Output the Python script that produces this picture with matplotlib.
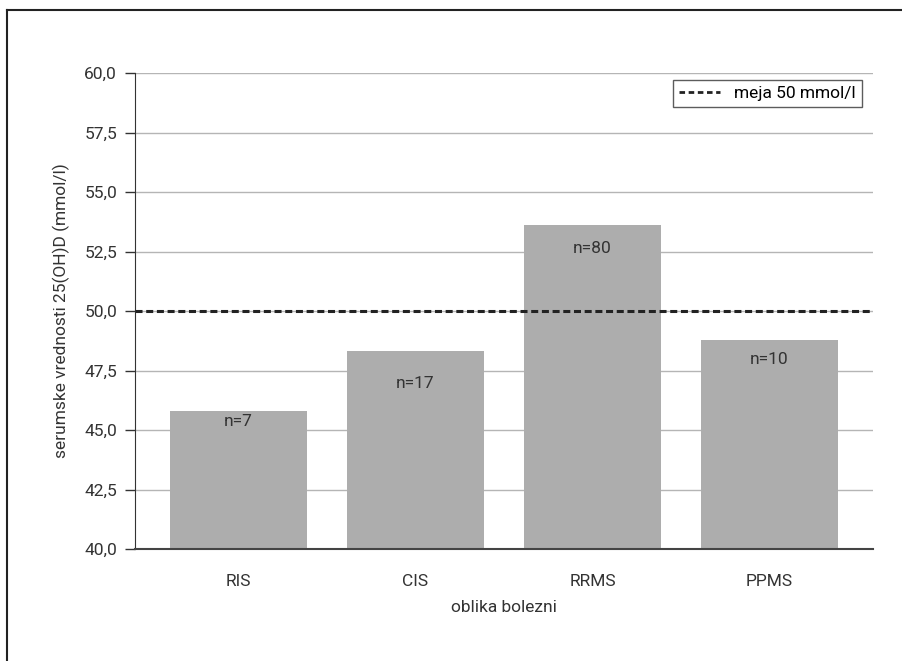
import matplotlib
matplotlib.use("Agg")
import matplotlib.pyplot as plt
from matplotlib.lines import Line2D

categories = ["RIS", "CIS", "RRMS", "PPMS"]
values = [45.8, 48.3, 53.6, 48.8]
counts = ["n=7", "n=17", "n=80", "n=10"]
threshold = 50.0
threshold_label = "meja 50 mmol/l"
yticks = [40.0, 42.5, 45.0, 47.5, 50.0, 52.5, 55.0, 57.5, 60.0]

# vertical placement of each count label below its bar top (points)
label_drop = [7.5, 23, 16.5, 14]

plt.rcParams["font.family"] = ["Roboto", "DejaVu Sans"]
FS = 12.5

fig = plt.figure(figsize=(9.03, 6.61), dpi=100)
ax = fig.add_axes([135 / 903, 1 - 549 / 661, (873 - 135) / 903, (549 - 73) / 661])

x = list(range(len(categories)))
ax.bar(x, [v - 40.0 for v in values], bottom=40.0, width=0.774,
       color="#adadad", zorder=2)

for xi, v, c, d in zip(x, values, counts, label_drop):
    ax.annotate(c, (xi, v), xytext=(0, -d), textcoords="offset points",
                ha="center", va="center", fontsize=FS, color="#333333",
                zorder=3)

ax.axhline(threshold, color="#222222", lw=2.2, ls=(0, (2.3, 1.2)), zorder=4)

ax.set_ylim(40, 60)
ax.set_xlim(-0.585, 3.585)
ax.set_yticks(yticks)
ax.set_yticklabels([f"{t:.1f}".replace(".", ",") for t in yticks])
ax.set_xticks(x)
ax.set_xticklabels(categories)
ax.yaxis.grid(True, color="#b5b5b5", lw=1, zorder=0)
ax.set_axisbelow(True)

for s in ["top", "right"]:
    ax.spines[s].set_visible(False)
ax.spines["left"].set_color("#333333")
ax.spines["bottom"].set_color("#444444")
ax.spines["bottom"].set_linewidth(1.5)
ax.tick_params(axis="y", length=7, width=1, color="#333333", labelsize=FS,
               labelcolor="#333333", pad=6)
ax.tick_params(axis="x", length=0, labelsize=FS, labelcolor="#333333", pad=18)

ax.set_ylabel("serumske vrednosti 25(OH)D (mmol/l)", fontsize=FS,
              color="#333333", labelpad=10)
ax.set_xlabel("oblika bolezni", fontsize=FS, color="#333333", labelpad=8)

handle = Line2D([], [], color="#222222", lw=2, ls=(0, (2.0, 1.3)))
leg = ax.legend([handle], [threshold_label], loc="upper right",
                bbox_to_anchor=(0.985, 0.985), fontsize=FS, frameon=True,
                fancybox=False, edgecolor="#333333", handlelength=2.4,
                borderpad=0.35, handletextpad=0.8, borderaxespad=0)
leg.get_frame().set_linewidth(1)

# outer frame along the top and left of the figure
fig.add_artist(Line2D([7 / 903, 7 / 903], [0, 1 - 10 / 661],
                      transform=fig.transFigure, color="#222222", lw=1.5))
fig.add_artist(Line2D([7 / 903, 1], [1 - 10 / 661, 1 - 10 / 661],
                      transform=fig.transFigure, color="#222222", lw=1.5))

fig.savefig("out.png", dpi=100)
